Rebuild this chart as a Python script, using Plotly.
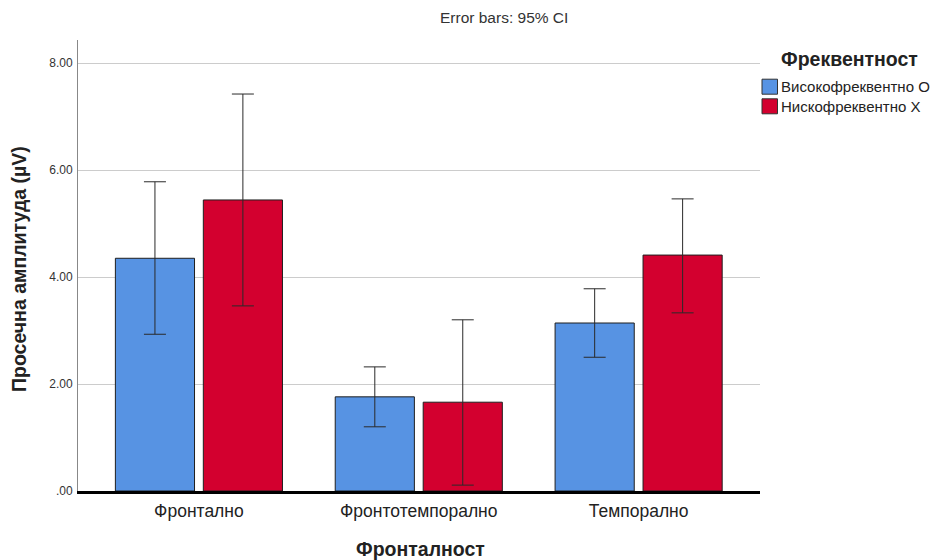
import plotly.graph_objects as go

categories = ["Фронтално", "Фронтотемпорално", "Темпорално"]
series_names = ["Високофреквентно O", "Нискофреквентно X"]
series_colors = ["#5793E3", "#D3002F"]
means_high = [4.35, 1.76, 3.14]
ci_upper_high = [5.78, 2.32, 3.78]
ci_lower_high = [2.93, 1.20, 2.50]
means_low = [5.44, 1.66, 4.41]
ci_upper_low = [7.42, 3.20, 5.46]
ci_lower_low = [3.46, 0.11, 3.33]
ytick_vals = [0, 2, 4, 6, 8]
ytick_text = [".00", "2.00", "4.00", "6.00", "8.00"]

FONT = "Liberation Sans, Arial, sans-serif"
TXT = "#222222"

series = [
    (means_high, ci_upper_high, ci_lower_high),
    (means_low, ci_upper_low, ci_lower_low),
]

fig = go.Figure()
for (m, up, lo), name, col in zip(series, series_names, series_colors):
    fig.add_trace(go.Bar(
        x=categories, y=m, name=name,
        marker=dict(color=col, line=dict(color="#1f1f1f", width=1)),
        error_y=dict(type="data", symmetric=False,
                     array=[u - v for u, v in zip(up, m)],
                     arrayminus=[v - l for v, l in zip(m, lo)],
                     color="#2a2a2a", thickness=1, width=11),
        showlegend=False,
    ))

L, R, T, B = 78, 176, 40, 69
W, H = 936, 560
pw = W - L - R
ph = H - T - B

fig.update_layout(
    width=W, height=H,
    margin=dict(l=L, r=R, t=T, b=B),
    paper_bgcolor="white", plot_bgcolor="white",
    barmode="group", bargap=0.2, bargroupgap=0.1,
    font=dict(family=FONT, color=TXT),
    showlegend=False,
)
fig.update_xaxes(
    range=[-0.55, 2.552], showgrid=False, showline=True,
    linecolor="black", linewidth=3, ticks="",
    tickfont=dict(size=17.5, color=TXT), ticklabelstandoff=2,
    zeroline=False,
)
fig.update_yaxes(
    range=[0, 8.43], tickvals=ytick_vals, ticktext=ytick_text,
    showgrid=True, gridcolor="#cccccc", gridwidth=1,
    showline=True, linecolor="#888888", linewidth=1, ticks="",
    tickfont=dict(size=12, color="#333333"), zeroline=False,
    ticklabelstandoff=2,
)

# Title
fig.add_annotation(text="Error bars: 95% CI", xref="paper", yref="paper",
                   x=(504 - L) / pw, y=1 + (T - 18) / ph, showarrow=False,
                   font=dict(size=15.5, color="#333333"), xanchor="center", yanchor="middle")
# Axis titles
fig.add_annotation(text="<b>Фронталност</b>", xref="paper", yref="paper",
                   x=(420 - L) / pw, y=-(549 - (T + ph)) / ph, showarrow=False,
                   font=dict(size=19.5, color=TXT), xanchor="center", yanchor="middle")
fig.add_annotation(text="<b>Просечна амплитуда (µV)</b>", xref="paper", yref="paper",
                   x=(19 - L) / pw, y=1 - (269 - T) / ph, showarrow=False, textangle=-90,
                   font=dict(size=19.5, color=TXT), xanchor="center", yanchor="middle")

# Legend (manual)
fig.add_annotation(text="<b>Фреквентност</b>", xref="paper", yref="paper",
                   x=(779 - L) / pw, y=1 - (59 - T) / ph, showarrow=False,
                   font=dict(size=19.5, color=TXT), xanchor="left", yanchor="middle")
for i, (name, col) in enumerate(zip(series_names, series_colors)):
    yc = 86.7 + i * 19.6
    fig.add_shape(type="rect", xref="paper", yref="paper",
                  x0=(762 - L) / pw, x1=(777.5 - L) / pw,
                  y0=1 - (yc + 7.5 - T) / ph, y1=1 - (yc - 7.5 - T) / ph,
                  fillcolor=col, line=dict(color="#333333", width=1))
    fig.add_annotation(text=name, xref="paper", yref="paper",
                       x=(779 - L) / pw, y=1 - (yc - T) / ph, showarrow=False,
                       font=dict(size=15, color=TXT), xanchor="left", yanchor="middle")

fig.write_html("out.html")
